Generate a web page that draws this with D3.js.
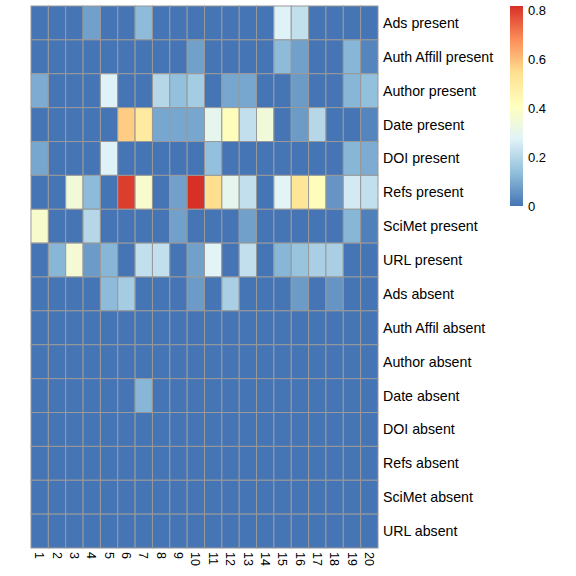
<!DOCTYPE html>
<html>
<head>
<meta charset="utf-8">
<script src="https://cdn.jsdelivr.net/npm/d3@7"></script>
<style>
  body { margin: 0; background: #fff; }
  text { font-family: "Liberation Sans", Arial, sans-serif; }
</style>
</head>
<body>
<script>
const rowNames = ["Ads present", "Auth Affill present", "Author present", "Date present",
  "DOI present", "Refs present", "SciMet present", "URL present", "Ads absent",
  "Auth Affil absent", "Author absent", "Date absent", "DOI absent", "Refs absent",
  "SciMet absent", "URL absent"];
const colNames = d3.range(1, 21).map(String);

// one row per line, values for columns 1..20
const adsPresent    = [0,0,0,0.08,0,0,0.13,0,0,0,0,0,0,0,0.27,0.22,0,0,0,0];
const affilPresent  = [0,0,0,0,0,0,0,0,0,0.08,0,0,0,0,0.13,0.08,0,0,0.12,0.03];
const authorPresent = [0.1,0,0,0,0.27,0,0,0.2,0.14,0.17,0,0.09,0.09,0,0,0.07,0,0,0.12,0.14];
const datePresent   = [0,0,0,0,0,0.58,0.5,0.09,0.09,0.09,0.3,0.42,0.22,0.35,0,0.07,0.2,0,0,0.03];
const doiPresent    = [0.09,0,0,0,0.27,0,0,0,0,0,0.14,0,0,0,0,0,0,0,0.12,0.1];
const refsPresent   = [0,0,0.35,0.13,0,0.8,0.38,0,0.08,0.82,0.55,0.3,0.22,0,0.28,0.52,0.42,0.06,0.25,0.22];
const scimetPresent = [0.38,0,0,0.2,0,0,0,0,0.08,0,0,0,0.08,0,0,0,0,0,0.12,0.02];
const urlPresent    = [0,0.12,0.36,0.07,0.12,0,0.22,0.22,0,0.08,0.28,0,0.22,0,0.12,0.15,0.18,0.18,0,0];
const adsAbsent     = [0,0,0,0,0.13,0.17,0,0,0,0.07,0,0.18,0,0,0,0.07,0,0.06,0,0];
const affilAbsent   = new Array(20).fill(0);
const authorAbsent  = new Array(20).fill(0);
const dateAbsent    = [0,0,0,0,0,0,0.12,0,0,0,0,0,0,0,0,0,0,0,0,0];
const doiAbsent     = new Array(20).fill(0);
const refsAbsent    = new Array(20).fill(0);
const scimetAbsent  = new Array(20).fill(0);
const urlAbsent     = new Array(20).fill(0);

const matrix = [adsPresent, affilPresent, authorPresent, datePresent, doiPresent,
  refsPresent, scimetPresent, urlPresent, adsAbsent, affilAbsent, authorAbsent,
  dateAbsent, doiAbsent, refsAbsent, scimetAbsent, urlAbsent];

const legendTicks = [0, 0.2, 0.4, 0.6, 0.8];
const maxVal = 0.82;

const W = 576, H = 576;
const svg = d3.select("body").append("svg").attr("width", W).attr("height", H);

const x = d3.scaleBand().domain(colNames).range([31, 378]);
const y = d3.scaleBand().domain(rowNames).range([6, 548]);

// RdYlBu reversed, 7 stops spread over [0, max]
const palette = ["#4575B4", "#91BFDB", "#E0F3F8", "#FFFFBF", "#FEE090", "#FC8D59", "#D73027"];
const color = d3.scaleLinear()
  .domain(palette.map((d, i) => i * maxVal / 6))
  .range(palette)
  .clamp(true);

const cells = [];
matrix.forEach((row, i) => row.forEach((v, j) => cells.push({ r: rowNames[i], c: colNames[j], v })));

svg.append("g").selectAll("rect").data(cells).join("rect")
  .attr("x", d => x(d.c))
  .attr("y", d => y(d.r))
  .attr("width", x.bandwidth())
  .attr("height", y.bandwidth())
  .attr("fill", d => color(d.v))
  .attr("stroke", "#999")
  .attr("stroke-width", 1);

// row labels
svg.append("g").selectAll("text").data(rowNames).join("text")
  .attr("x", 383)
  .attr("y", d => y(d) + y.bandwidth() / 2)
  .attr("dy", "0.35em")
  .attr("font-size", 14.2)
  .attr("fill", "#000")
  .text(d => d);

// column labels, rotated
svg.append("g").selectAll("text").data(colNames).join("text")
  .attr("transform", d => `translate(${x(d) + x.bandwidth() / 2},552) rotate(90)`)
  .attr("dy", "0.35em")
  .attr("font-size", 12.5)
  .attr("fill", "#000")
  .text(d => d);

// legend
const ly = d3.scaleLinear().domain([0, maxVal]).range([206, 6]);
const defs = svg.append("defs");
const grad = defs.append("linearGradient").attr("id", "lg")
  .attr("x1", 0).attr("y1", 1).attr("x2", 0).attr("y2", 0);
palette.forEach((c, i) => grad.append("stop").attr("offset", i / 6).attr("stop-color", c));

svg.append("rect")
  .attr("x", 510).attr("y", ly(maxVal))
  .attr("width", 13).attr("height", ly(0) - ly(maxVal))
  .attr("fill", "url(#lg)");

svg.append("g").selectAll("text").data(legendTicks).join("text")
  .attr("x", 528)
  .attr("y", d => ly(d))
  .attr("dy", "0.35em")
  .attr("font-size", 13)
  .attr("fill", "#000")
  .text(d => d === 0 ? "0" : d.toFixed(1));
</script>
</body>
</html>
